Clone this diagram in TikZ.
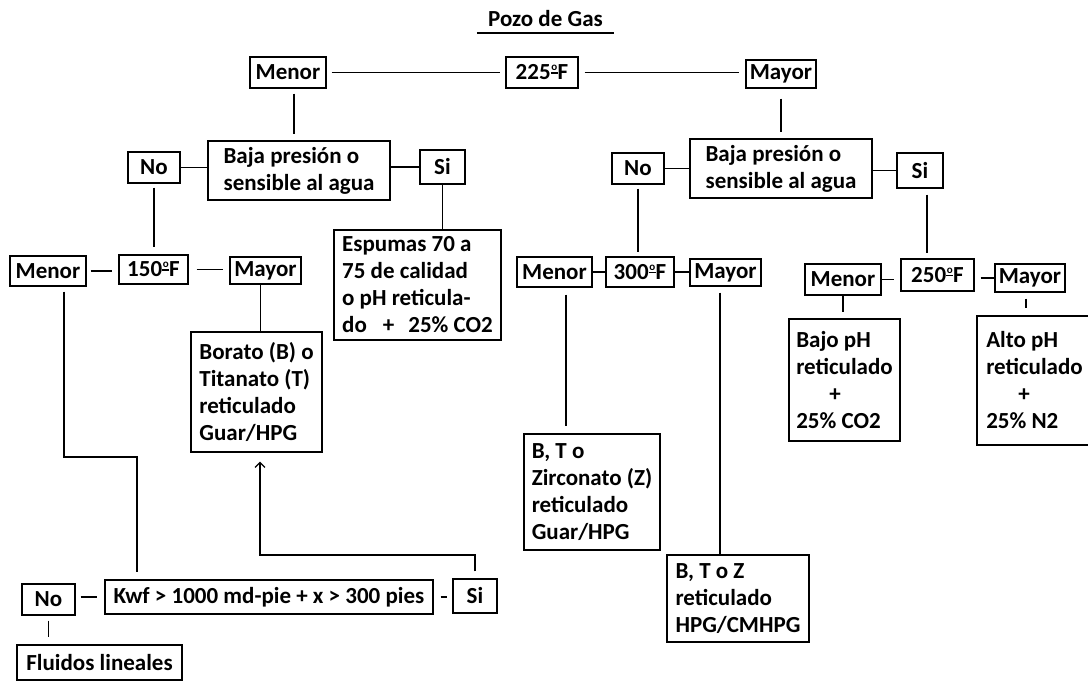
\documentclass[tikz,border=0pt]{standalone}
\usepackage{fontspec}
\setmainfont{Carlito}
\usetikzlibrary{arrows.meta}
\newcommand{\ordo}{\raisebox{6.5pt}{\makebox[7pt]{\rlap{\rule[-0.5pt]{7pt}{1.6pt}}\hfil\raisebox{2.5pt}{\fontsize{11}{11}\selectfont o}\hfil}}}

\begin{document}
\begin{tikzpicture}[x=1pt, y=-1pt,
    font=\bfseries\fontsize{23}{27}\selectfont,
    >={Straight Barb[length=5pt, width=10pt]},
    box/.style={draw, line width=1.2pt, inner sep=0pt, align=center},
    multibox/.style={box, align=left},
    link/.style={line width=1.2pt},
    gap/.style={shorten <=#1, shorten >=#1}]
    %\draw[help lines, step=50] (0, 0) grid (1088, 682);
    \useasboundingbox (0, 0) rectangle (1088, 682);

    \node[minimum width=137pt, minimum height=28pt, inner sep=0pt] at (545.5, 19) (Title) {Pozo de Gas};
    \draw[line width=2.5pt] (Title.south west) -- (Title.south east);

    \node[box, minimum width=76pt, minimum height=31pt] at (288, 72.5) (MenA) {Menor};
    \node[box, minimum width=72pt, minimum height=31pt] at (542, 72.5) (T225) {225\ordo F};
    \node[box, minimum width=70pt, minimum height=28pt] at (781, 74) (MayA) {Mayor};

    % left branch
    \node[multibox, minimum width=182pt, minimum height=59pt] at (299, 170.5) (BajaL) {Baja presión o\\sensible al agua};
    \node[box, minimum width=52pt, minimum height=31pt] at (154, 167.5) (NoL) {No};
    \node[box, minimum width=45pt, minimum height=34pt] at (442.5, 167) (SiL) {Si};
    \node[multibox, minimum width=167pt, minimum height=110pt] at (417.5, 285) (Esp) {Espumas 70 a\\75 de calidad\\o pH reticula-\\do\hspace{16pt}+\hspace{14pt}25\%~CO2};

    \node[box, minimum width=76pt, minimum height=30pt] at (48, 271) (MenB) {Menor};
    \node[box, minimum width=69pt, minimum height=29pt] at (153.5, 269.5) (T150) {150\ordo F};
    \node[box, minimum width=71pt, minimum height=27pt] at (265.5, 270.5) (MayB) {Mayor};
    \node[multibox, minimum width=131pt, minimum height=120pt] at (256.5, 392) (Bor) {Borato (B) o\\Titanato (T)\\reticulado\\Guar/HPG};

    \node[box, minimum width=328pt, minimum height=34pt] at (269, 597) (Kwf) {Kwf > 1000 md-pie + x > 300 pies};
    \node[box, minimum width=53pt, minimum height=31pt] at (48.5, 599.5) (NoB) {No};
    \node[box, minimum width=44pt, minimum height=34pt] at (475, 596) (SiB) {Si};
    \node[box, minimum width=165pt, minimum height=35pt] at (99.5, 662.5) (Flu) {Fluidos lineales};

    % right branch
    \node[multibox, minimum width=182pt, minimum height=59pt] at (781, 168.5) (BajaR) {Baja presión o\\sensible al agua};
    \node[box, minimum width=52pt, minimum height=31pt] at (638, 168.5) (NoR) {No};
    \node[box, minimum width=46pt, minimum height=35pt] at (920, 170.5) (SiR) {Si};

    \node[box, minimum width=75pt, minimum height=30pt] at (554.5, 272) (MenC) {Menor};
    \node[box, minimum width=68pt, minimum height=30pt] at (640, 272) (T300) {300\ordo F};
    \node[box, minimum width=71pt, minimum height=27pt] at (725.5, 272.5) (MayC) {Mayor};
    \node[multibox, minimum width=136pt, minimum height=116pt] at (592, 492) (BTZr) {B, T o\\Zirconato (Z)\\reticulado\\Guar/HPG};
    \node[multibox, minimum width=142pt, minimum height=87pt] at (738, 598.5) (BTZ) {B, T o Z\\reticulado\\HPG/CMHPG};

    \node[box, minimum width=76pt, minimum height=31pt] at (843, 279.5) (MenD) {Menor};
    \node[box, minimum width=73pt, minimum height=32pt] at (937.5, 275) (T250) {250\ordo F};
    \node[box, minimum width=70pt, minimum height=28pt] at (1030, 278) (MayD) {Mayor};
    \node[multibox, minimum width=111pt, minimum height=122pt] at (844.5, 380) (Bajo) {Bajo pH\\reticulado\\\hspace*{33pt}+\\25\%~CO2};
    \node[multibox, minimum width=115pt, minimum height=129pt] at (1034.5, 380.5) (Alto) {Alto pH\\reticulado\\\hspace*{32pt}+\\25\%~N2};

    % connectors
    \draw[link, gap=5pt] (MenA.east) -- (T225.west);
    \draw[link, gap=6pt] (T225.east) -- (T225.east -| MayA.west);
    \draw[link, shorten <=5pt, shorten >=6pt] ([xshift=6pt]MenA.south) -- ([xshift=6pt]MenA.south |- BajaL.north);
    \draw[link] (NoL.east) -- (NoL.east -| BajaL.west);
    \draw[link] (SiL.west -| BajaL.east) -- (SiL.west);
    \draw[link, shorten <=4pt, shorten >=7pt] (NoL.south) -- (NoL.south |- T150.north);
    \draw[link] (SiL.south) -- (SiL.south |- Esp.north);
    \draw[link, shorten <=4pt, shorten >=6pt] (MenB.east) -- (MenB.east -| T150.west);
    \draw[link, shorten <=8pt, shorten >=6pt] (T150.east) -- (T150.east -| MayB.west);
    \draw[link] ([xshift=-5pt]MayB.south) -- ([xshift=-5pt]MayB.south |- Bor.north);

    \coordinate (KinkA) at (137, 457);
    \draw[link, shorten <=5pt, shorten >=7pt] ([xshift=16pt]MenB.south) |- (KinkA) -- (KinkA |- Kwf.north);
    \draw[link, shorten <=5pt, shorten >=7pt] (Kwf.west -| NoB.east) -- (Kwf.west);
    \draw[link, shorten <=7pt, shorten >=5pt] (Kwf.east) -- (Kwf.east -| SiB.west);
    \draw[link, shorten <=5pt, shorten >=7pt] (NoB.south) -- (NoB.south |- Flu.north);
    \coordinate (KinkB) at (260, 555);
    \draw[link, ->, shorten <=7pt, shorten >=9pt] (SiB.north) |- (KinkB) -- (KinkB |- Bor.south);

    \draw[link, shorten <=10pt, shorten >=6pt] (MayA.south) -- (BajaR.north);
    \draw[link] (NoR.east) -- (NoR.east -| BajaR.west);
    \draw[link] (SiR.west -| BajaR.east) -- (SiR.west);
    \draw[link, gap=4pt] (NoR.south) -- (NoR.south |- T300.north);
    \draw[link, shorten <=6pt, shorten >=5pt] ([xshift=7pt]SiR.south) -- ([xshift=7pt]SiR.south |- T250.north);
    \draw[link] (MenC.east) -- (MenC.east -| T300.west);
    \draw[link] (T300.east) -- (T300.east -| MayC.west);
    \draw[link, gap=7pt] ([xshift=11.5pt]MenC.south) -- ([xshift=11.5pt]MenC.south |- BTZr.north);
    \draw[link, line width=1.8pt, shorten <=6pt] ([xshift=-5.5pt]MayC.south) -- ([xshift=-5.5pt]MayC.south |- BTZ.north);
    \draw[link, shorten >=6pt] (MenD.east) -- (MenD.east -| T250.west);
    \draw[link, shorten <=6pt] (MayD.west -| T250.east) -- (MayD.west);
    \draw[link, shorten >=6pt] (MenD.south) -- (MenD.south |- Bajo.north);
    \draw[link, shorten <=6pt, shorten >=7pt] ([xshift=-4pt]MayD.south) -- ([xshift=-4pt]MayD.south |- Alto.north);

\end{tikzpicture}
\end{document}
